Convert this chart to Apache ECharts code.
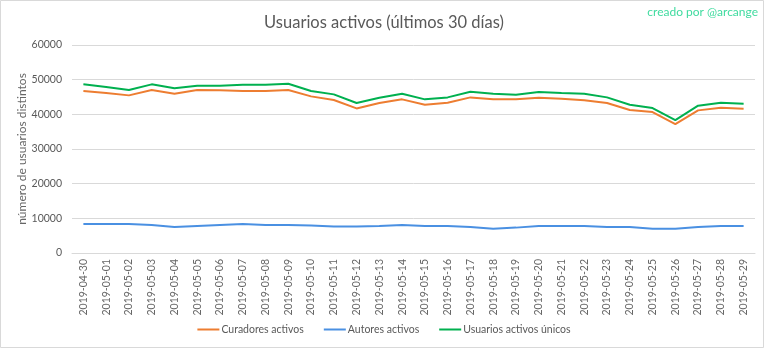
<!DOCTYPE html>
<html>
<head>
<meta charset="utf-8">
<script src="https://cdn.jsdelivr.net/npm/echarts@6/dist/echarts.min.js"></script>
<style>
html,body{margin:0;padding:0;background:#fff;}
#chart{width:768px;height:349px;}
</style>
</head>
<body>
<div id="chart"></div>
<script>
const categories = ["2019-04-30","2019-05-01","2019-05-02","2019-05-03","2019-05-04","2019-05-05","2019-05-06","2019-05-07","2019-05-08","2019-05-09","2019-05-10","2019-05-11","2019-05-12","2019-05-13","2019-05-14","2019-05-15","2019-05-16","2019-05-17","2019-05-18","2019-05-19","2019-05-20","2019-05-21","2019-05-22","2019-05-23","2019-05-24","2019-05-25","2019-05-26","2019-05-27","2019-05-28","2019-05-29"];
const curadores = [46700,46150,45470,47010,45950,47010,46920,46720,46720,47010,45180,44120,41710,43260,44320,42770,43350,44890,44320,44320,44800,44510,44030,43260,41230,40660,37190,41140,41910,41620];
const autores = [8380,8380,8380,8090,7510,7800,8090,8380,8090,8090,7900,7610,7610,7800,8090,7800,7800,7510,7030,7320,7800,7800,7800,7510,7510,7030,7030,7510,7800,7800];
const unicos = [48650,47880,47010,48650,47500,48270,48270,48550,48550,48840,46720,45760,43260,44800,45950,44320,44890,46530,45950,45660,46440,46150,45950,44890,42770,41810,38340,42490,43350,43060];
const yTicks = [0,10000,20000,30000,40000,50000,60000];

const FONT = 'Lato, "Open Sans", sans-serif';
const chart = echarts.init(document.getElementById('chart'), null, {renderer:'canvas'});
chart.setOption({
  animation:false,
  backgroundColor:'#ffffff',
  textStyle:{fontFamily:FONT},
  title:{
    text:'Usuarios activos (últimos 30 días)',
    left:'center', top:9,
    textStyle:{fontFamily:FONT,fontSize:16.5,fontWeight:'normal',color:'#595959'}
  },
  graphic:[
    {type:'rect',shape:{x:0.5,y:0.5,width:763,height:347},style:{fill:'none',stroke:'#d9d9d9',lineWidth:1},silent:true},
    {type:'text',right:10,top:6,style:{text:'creado por @arcange',fill:'#3fdb9f',font:'12px '+FONT}}
  ],
  legend:{
    bottom:9, left:'center', itemWidth:22, itemHeight:2, itemGap:20,
    icon:'rect',
    textStyle:{fontFamily:FONT,fontSize:10.5,color:'#595959',padding:[0,0,0,-3]},
    data:['Curadores activos','Autores activos','Usuarios activos únicos']
  },
  grid:{left:72,right:13,top:45,bottom:96},
  xAxis:{
    type:'category', data:categories, boundaryGap:true,
    axisLine:{lineStyle:{color:'#d9d9d9'}},
    axisTick:{show:false},
    axisLabel:{rotate:90,interval:0,color:'#666666',fontSize:10.5,fontFamily:FONT,margin:6}
  },
  yAxis:{
    type:'value', min:0, max:60000, interval:10000,
    name:'número de usuarios distintos', nameLocation:'middle', nameGap:44,
    nameMoveOverlap:false,
    nameTextStyle:{color:'#666666',fontSize:12,fontFamily:FONT},
    axisLine:{show:false}, axisTick:{show:false},
    axisLabel:{color:'#595959',fontSize:10.5,fontFamily:FONT,margin:10,
      formatter:function(v){return yTicks.indexOf(v)>=0?String(v):'';}},
    splitLine:{lineStyle:{color:'#d9d9d9'}}
  },
  series:[
    {name:'Curadores activos',type:'line',data:curadores,symbol:'none',lineStyle:{width:2,color:'#ED7D31'},itemStyle:{color:'#ED7D31'}},
    {name:'Autores activos',type:'line',data:autores,symbol:'none',lineStyle:{width:2,color:'#4a90e2'},itemStyle:{color:'#4a90e2'}},
    {name:'Usuarios activos únicos',type:'line',data:unicos,symbol:'none',lineStyle:{width:2,color:'#00b04f'},itemStyle:{color:'#00b04f'}}
  ]
});
</script>
</body>
</html>
